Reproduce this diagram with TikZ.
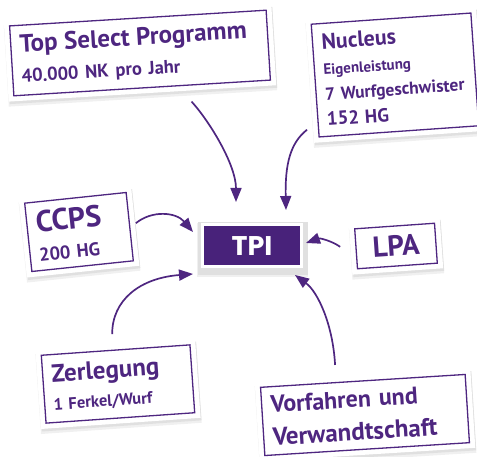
\documentclass[tikz,border=0pt]{standalone}
\usepackage{fontspec}
\setmainfont{PT Sans}
\newfontfamily\tpifont{Poppins}
\usetikzlibrary{arrows.meta}
\definecolor{vio}{RGB}{78,38,128}
\definecolor{tpiv}{RGB}{72,34,122}
\tikzset{
  shadowed/.style={
    preaction={draw=black!6, fill=black!6, line width=12pt, transform canvas={shift={(0.5pt,-4.5pt)}}},
    preaction={draw=black!12, fill=black!12, line width=11pt, transform canvas={shift={(1pt,-2.5pt)}}}},
  card/.style={shadowed, preaction={draw=white, line width=11pt},
    draw=vio, line width=1.3pt, fill=white, inner sep=9pt, align=left, text=vio},
  tpibox/.style={shadowed, fill=tpiv, draw=white, line width=3pt, text=white,
    minimum width=99pt, minimum height=42pt, inner sep=0pt,
    font=\tpifont\bfseries\fontsize{27}{27}\selectfont},
  arr/.style={draw=vio, line width=1.7pt, -{Triangle[length=14pt,width=11pt]}}
}
\begin{document}
\begin{tikzpicture}[x=1pt,y=-1pt]
\useasboundingbox (0,0) rectangle (477,457);

\node[card, rotate=3.5, text width=239pt, minimum height=70pt,
      font=\bfseries\fontsize{20}{30}\selectfont] (tsp) at (140,53)
  {{\fontsize{25}{30}\selectfont Top Select Programm}\\
   {\fontsize{18.5}{20}\selectfont 40.000 NK pro Jahr}};

\node[card, rotate=4, text width=142pt, minimum height=113pt,
      font=\bfseries\fontsize{17.5}{25.5}\selectfont] (nuc) at (395,75)
  {{\fontsize{22}{25}\selectfont Nucleus}\\
   {\fontsize{15}{25}\selectfont Eigenleistung}\\
   7 Wurfgeschwister\\
   {\fontsize{19}{25}\selectfont 152 HG}};

\node[card, rotate=6, text width=84pt, minimum height=64pt,
      font=\bfseries\fontsize{18.5}{29}\selectfont] (ccps) at (79,232)
  {{\fontsize{30}{29}\selectfont CCPS}\\
   200 HG};

\node[tpibox] (tpi) at (252,246) {TPI};

\node[card, rotate=4, minimum width=80pt, minimum height=40pt, inner sep=2pt, align=center,
      font=\bfseries\fontsize{29}{29}\selectfont] (lpa) at (396,246) {LPA};

\node[card, rotate=4, text width=131pt, minimum height=68pt,
      font=\bfseries\fontsize{16.5}{28}\selectfont] (zer) at (118,384)
  {{\fontsize{25}{28}\selectfont Zerlegung}\\
   1 Ferkel/Wurf};

\node[card, rotate=3.6, text width=187pt, minimum height=66pt,
      font=\bfseries\fontsize{24}{33}\selectfont] (vor) at (365,415)
  {Vorfahren und\\ {\fontsize{25}{33}\selectfont Verwandtschaft}};

\draw[arr] ([shift={(49.4pt,-13pt)}]tsp.south) .. controls (210,122) and (236,165) .. ([shift={(-16pt,21.5pt)}]tpi.north);
\draw[arr] ([shift={(-11.5pt,7.9pt)}]nuc.south west) .. controls (290,143) and (285,165) .. ([shift={(34pt,13.5pt)}]tpi.north);
\draw[arr] ([shift={(5.5pt,3.4pt)}]ccps.east) .. controls (152,210) and (176,212) .. ([shift={(-8pt,-8.5pt)}]tpi.north west);
\draw[arr] ([shift={(-15.3pt,2pt)}]lpa.west) .. controls (332,241) and (320,238) .. ([shift={(3pt,3pt)}]tpi.east);
\draw[arr] ([shift={(-3.4pt,15.3pt)}]zer.north) .. controls (112,300) and (140,278) .. ([shift={(-8pt,-5.5pt)}]tpi.south west);
\draw[arr] ([shift={(-27.75pt,15.3pt)}]vor.north) .. controls (333,325) and (318,292) .. ([shift={(43pt,-6.5pt)}]tpi.south);
\end{tikzpicture}
\end{document}
